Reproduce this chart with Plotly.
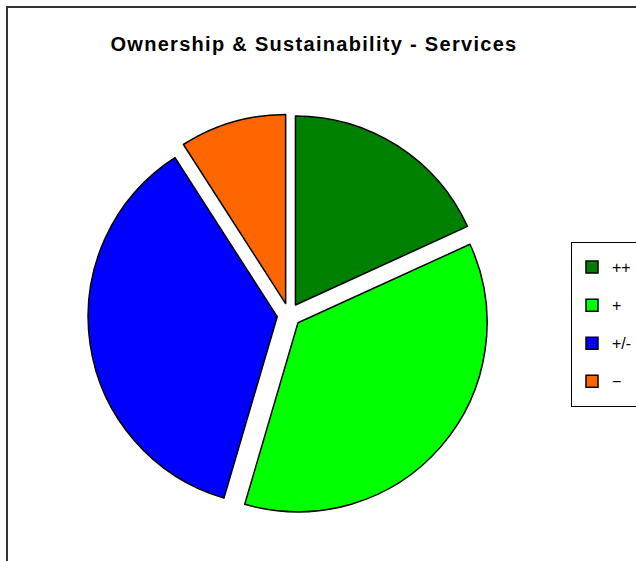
import plotly.graph_objects as go

labels = ["++", "+", "+/-", "\u2212"]
values = [2, 4, 4, 1]
colors = ["#008000", "#00FF00", "#0000FF", "#FF6600"]
title_text = "Ownership &amp; Sustainability - Services"

W, H = 636, 561
L, T, S = 88, 114, 402  # plot area left, top, size

legend_labels = ['<span style="font-size:16px;baseline-shift:5px">%s</span>' % s for s in labels]

fig = go.Figure(go.Pie(
    labels=legend_labels,
    values=values,
    sort=False,
    direction="clockwise",
    rotation=0,
    pull=0.063,
    textinfo="none",
    hoverinfo="label+value+percent",
    marker=dict(colors=colors, line=dict(color="black", width=1.5)),
))

def px_x(x):
    return (x - L) / S

def px_y(y):
    return 1 - (y - T) / S

fig.update_layout(
    width=W, height=H,
    margin=dict(l=L, r=W - L - S, t=T, b=H - T - S),
    paper_bgcolor="white",
    plot_bgcolor="white",
    font=dict(family="Liberation Sans, Arial, sans-serif", color="black"),
    title=dict(text='<b><span style="letter-spacing:1.3px">' + title_text + "</span></b>",
               x=314 / W, xref="container",
               y=1 - 44 / H, yref="container", xanchor="center", yanchor="middle",
               font=dict(size=20, family="Liberation Sans, Arial, sans-serif", color="black")),
    legend=dict(
        xref="container", yref="container",
        x=571 / W, xanchor="left",
        y=1 - 242 / H, yanchor="top",
        bordercolor="black", borderwidth=1,
        bgcolor="white",
        font=dict(size=27, family="Liberation Sans, Arial, sans-serif", color="black"),
        itemwidth=30,
        entrywidth=40, entrywidthmode="pixels",
    ),
    shapes=[dict(type="rect", xref="paper", yref="paper",
                 x0=px_x(7), x1=px_x(W + 10), y0=px_y(H + 10), y1=px_y(7),
                 line=dict(color="#333333", width=2), fillcolor="rgba(0,0,0,0)",
                 layer="below")],
)

fig.write_html("out.html", config={"displayModeBar": False},
               post_script="document.body.style.margin='0';")
